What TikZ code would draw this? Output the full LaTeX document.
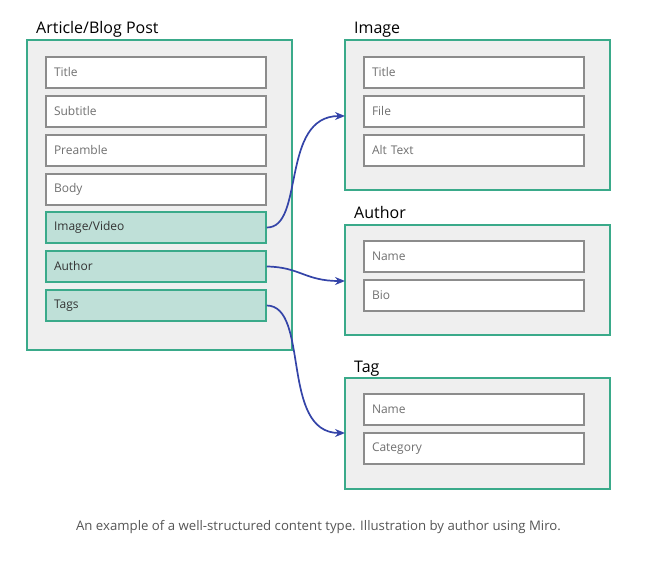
\documentclass[tikz,border=0pt]{standalone}
\usepackage{fontspec}
\setmainfont{Open Sans}
\usetikzlibrary{arrows.meta}
\definecolor{teal}{HTML}{3AAA8A}
\definecolor{panel}{HTML}{EFEFEF}
\definecolor{fieldline}{HTML}{8C8C8C}
\definecolor{fieldtext}{HTML}{707070}
\definecolor{hifill}{HTML}{BFE0D8}
\definecolor{arrowblue}{HTML}{3444A8}
\definecolor{captext}{HTML}{555555}
\begin{document}
\begin{tikzpicture}[x=1pt,y=-1pt,
  panelbox/.style={draw=teal,fill=panel,line width=1.4pt,inner sep=0pt},
  field/.style={draw=fieldline,fill=white,line width=1.5pt,minimum height=31pt,
    text width=204pt,inner xsep=8pt,inner ysep=0pt,align=left,
    font=\fontsize{12}{14}\selectfont,text=fieldtext},
  hifield/.style={field,draw=teal,fill=hifill,text=black!80},
  heading/.style={anchor=base west,inner sep=0pt,font=\fontsize{16}{19}\selectfont},
  link/.style={draw=arrowblue,line width=1.7pt,-{Stealth[length=10pt,width=8pt]}}]
\useasboundingbox (0,0) rectangle (653,561);
% panels
\node[panelbox,minimum width=265pt,minimum height=310pt] (art) at (159.5,195) {};
\node[panelbox,minimum width=265pt,minimum height=150pt] (img) at (477.5,115) {};
\node[panelbox,minimum width=265pt,minimum height=110pt] (aut) at (477.5,280) {};
\node[panelbox,minimum width=265pt,minimum height=111pt] (tag) at (477.5,433.5) {};
% headings
\node[heading] (hart) at (36,34) {Article/Blog Post};
\node[heading] (himg) at (354,34) {Image};
\node[heading] (haut) at (354,219) {Author};
\node[heading] (htag) at (354,372) {Tag};
% article fields
\node[field] (a1) at (156,72.5) {Title};
\node[field] (a2) at (156,111.5) {Subtitle};
\node[field] (a3) at (156,150.5) {Preamble};
\node[field] (a4) at (156,189.5) {Body};
\node[hifield] (a5) at (156,227.5) {Image/Video};
\node[hifield] (a6) at (156,266.5) {Author};
\node[hifield] (a7) at (156,305.5) {Tags};
% image fields
\node[field] (i1) at (474,72.5) {Title};
\node[field] (i2) at (474,111.5) {File};
\node[field] (i3) at (474,150.5) {Alt Text};
% author fields
\node[field] (u1) at (474,256.5) {Name};
\node[field] (u2) at (474,295.5) {Bio};
% tag fields
\node[field] (t1) at (474,409.5) {Name};
\node[field] (t2) at (474,448.5) {Category};
% connectors
\coordinate (eimg) at (345,116);
\coordinate (eaut) at (345,281);
\coordinate (etag) at (345,433);
\draw[link] (a5.east) .. controls (305,228) and (280,116) .. (eimg);
\draw[link] (a6.east) .. controls (300,267) and (305,281) .. (eaut);
\draw[link] (a7.east) .. controls (310,306) and (280,433) .. (etag);
% caption
\node[font=\fontsize{13.2}{16}\selectfont,text=captext] (cap) at (318.5,527) {An example of a well-structured content type. Illustration by author using Miro.};
\end{tikzpicture}
\end{document}
